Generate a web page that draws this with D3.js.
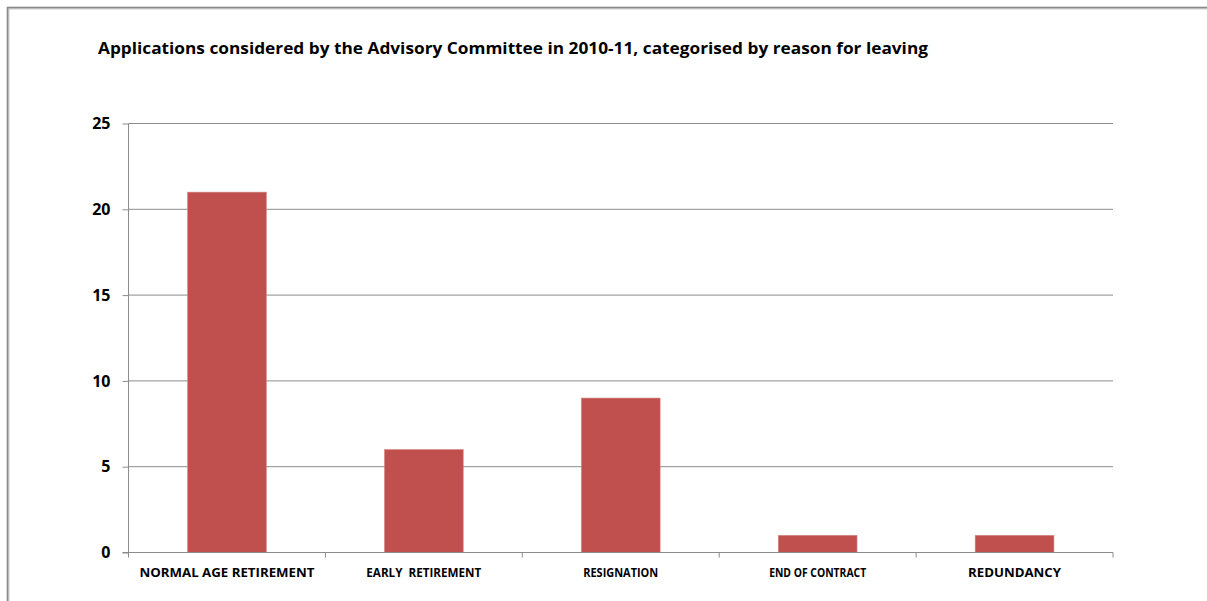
<!DOCTYPE html>
<html>
<head>
<meta charset="utf-8">
<script src="https://cdn.jsdelivr.net/npm/d3@7"></script>
<style>
  body { margin: 0; background: #fff; }
  svg { display: block; font-family: "Open Sans", "DejaVu Sans", sans-serif; }
</style>
</head>
<body>
<div id="chart"></div>
<script>
// chart data
const categories = ['NORMAL AGE RETIREMENT', 'EARLY  RETIREMENT', 'RESIGNATION', 'END OF CONTRACT', 'REDUNDANCY'];
const applications = [21, 6, 9, 1, 1];
const yTicks = [0, 5, 10, 15, 20, 25];
const title = 'Applications considered by the Advisory Committee in 2010-11, categorised by reason for leaving';

const W = 1207, H = 601;
const margin = {top: 123.5, right: 94, bottom: 48.5, left: 128.5};
const width = W - margin.left - margin.right;
const height = H - margin.top - margin.bottom;

const svg = d3.select('#chart').append('svg').attr('width', W).attr('height', H);

// outer frame
svg.append('rect').attr('x', 8.5).attr('y', 8.5).attr('width', W + 20).attr('height', H + 20)
  .attr('fill', 'none').attr('stroke', '#d0d0d0').attr('stroke-width', 2);
svg.append('rect').attr('x', 7.5).attr('y', 7.5).attr('width', W + 20).attr('height', H + 20)
  .attr('fill', 'none').attr('stroke', '#8a8a8a').attr('stroke-width', 1.6);

// title, squeezed to the reference width
svg.append('text').attr('x', 98).attr('y', 54).attr('font-size', 15.5).attr('font-weight', 'bold')
  .attr('fill', '#000').attr('textLength', 830).attr('lengthAdjust', 'spacingAndGlyphs').text(title);

const g = svg.append('g').attr('transform', `translate(${margin.left},${margin.top})`);

const x = d3.scaleBand().domain(categories).range([0, width]).paddingInner(0.6).paddingOuter(0.3);
const y = d3.scaleLinear().domain([0, 25]).range([height, 0]);

// gridlines
g.append('g').selectAll('line').data(yTicks.filter(d => d > 0)).enter().append('line')
  .attr('x1', 0).attr('x2', width).attr('y1', d => y(d)).attr('y2', d => y(d))
  .attr('stroke', '#8c8c8c').attr('stroke-width', 1);

// bars
g.append('g').selectAll('rect').data(applications).enter().append('rect')
  .attr('x', (d, i) => x(categories[i])).attr('width', x.bandwidth())
  .attr('y', d => y(d)).attr('height', d => height - y(d))
  .attr('fill', '#c0504d').attr('stroke', '#d68583').attr('stroke-width', 0.6);

// y axis
const yAxis = g.append('g').call(d3.axisLeft(y).tickValues(yTicks).tickSize(6).tickPadding(12).tickFormat(d3.format('d')));
yAxis.select('.domain').attr('stroke', '#8c8c8c').attr('d', `M-0,${height}V0`);
yAxis.selectAll('.tick line').attr('stroke', '#8c8c8c');
yAxis.selectAll('.tick text').attr('font-size', 16).attr('font-weight', 'bold').attr('fill', '#000')
  .attr('font-family', '"Open Sans", sans-serif');

// x axis with boundary ticks
const xg = g.append('g').attr('transform', `translate(0,${height})`);
xg.append('line').attr('x1', -6).attr('x2', width).attr('stroke', '#8c8c8c');
const step = x.step();
const bounds = d3.range(categories.length + 1).map(i => i * step);
xg.selectAll('.bt').data(bounds).enter().append('line').attr('class', 'bt')
  .attr('x1', d => d).attr('x2', d => d).attr('y1', 0).attr('y2', 5).attr('stroke', '#8c8c8c');
const labelW = [175, 115, 75, 97, 93];
xg.selectAll('.cl').data(categories).enter().append('text').attr('class', 'cl')
  .attr('x', d => x(d) + x.bandwidth() / 2).attr('y', 24.5).attr('text-anchor', 'middle')
  .attr('font-size', 12).attr('font-weight', 'bold').attr('fill', '#000')
  .style('white-space', 'pre')
  .attr('textLength', (d, i) => labelW[i]).attr('lengthAdjust', 'spacingAndGlyphs')
  .text(d => d);
</script>
</body>
</html>
